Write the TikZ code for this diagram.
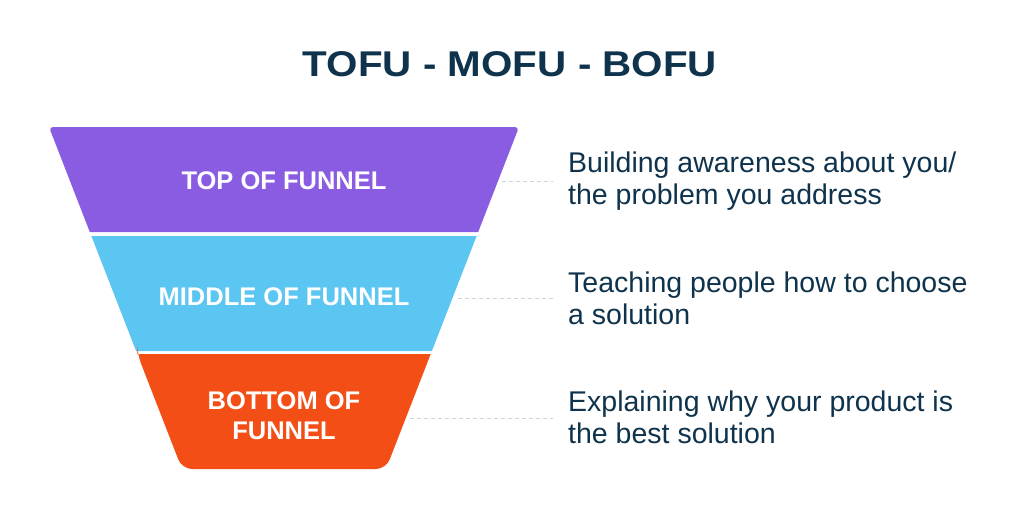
\documentclass[tikz,border=0pt]{standalone}
\usepackage{fontspec}
\setmainfont{Liberation Sans}
\definecolor{fpurple}{RGB}{138,92,226}
\definecolor{fcyan}{RGB}{92,198,243}
\definecolor{forange}{RGB}{243,78,22}
\definecolor{navy}{RGB}{15,51,77}
\definecolor{dashgray}{RGB}{208,212,216}
\tikzset{
  funlabel/.style={text=white, font=\fontsize{25.5}{30}\selectfont\bfseries, align=center, inner sep=0pt},
  desc/.style={text=navy, font=\fontsize{28.5}{32}\selectfont, align=left, anchor=west, inner sep=0pt},
  guide/.style={draw=dashgray, dash pattern=on 4pt off 3pt, line width=0.8pt}
}
\begin{document}
\begin{tikzpicture}[x=1pt,y=-1pt]
\useasboundingbox[fill=white] (0,0) rectangle (1024,522);
% title
\node[text=navy, inner sep=0pt] (title) at (510,64.5) {\resizebox{414pt}{25pt}{\bfseries TOFU - MOFU - BOFU}};
% funnel sections
\fill[fpurple] (89.8,232) [rounded corners=4pt] -- (49,127) -- (519,127) [sharp corners] -- (478.2,232) -- cycle;
\fill[fcyan] (91.4,236) -- (476.6,236) -- (431.9,351) -- (136.1,351) -- cycle;
\fill[forange] (137.3,354) -- (430.7,354) [rounded corners=10pt] -- (386,469) -- (182,469) -- (137.3,354) [sharp corners] -- cycle;
% funnel labels
\node[funlabel] (tofu) at (284,181) {TOP OF FUNNEL};
\node[funlabel] (mofu) at (284,297) {MIDDLE OF FUNNEL};
\node[funlabel] (bofu) at (284,416) {BOTTOM OF\\FUNNEL};
% descriptions
\node[desc] (d1) at (568,181) {Building awareness about you/\\the problem you address};
\node[desc] (d2) at (568,298) {Teaching people how to choose\\a solution};
\node[desc] (d3) at (568,417) {Explaining why your product is\\the best solution};
% guides
\coordinate (e1) at (502,181);
\coordinate (e2) at (458,298);
\coordinate (e3) at (410,418);
\coordinate (t1) at (553,181);
\coordinate (t2) at (553,298);
\coordinate (t3) at (553,418);
\draw[guide] (e1) -- (t1);
\draw[guide] (e2) -- (t2);
\draw[guide] (e3) -- (t3);
\end{tikzpicture}
\end{document}
